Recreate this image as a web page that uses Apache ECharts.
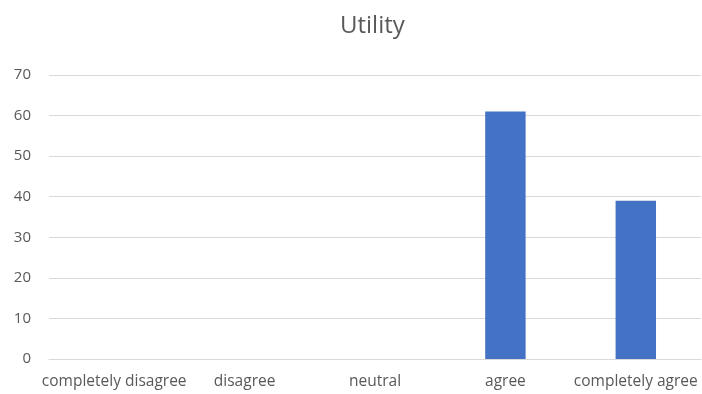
<!DOCTYPE html>
<html lang="en">
<head>
    <meta charset="UTF-8">
    <title>Utility</title>
    <script src="https://cdn.jsdelivr.net/npm/echarts@6/dist/echarts.min.js"></script>
</head>
<body style="margin:0">
<div id="main" style="width: 702px;height:394px;"></div>
<script type="text/javascript">
    var categories = ['completely disagree', 'disagree', 'neutral', 'agree', 'completely agree'];
    var counts = [0, 0, 0, 61, 39];
    var yTicks = [0, 10, 20, 30, 40, 50, 60, 70];

    var myChart = echarts.init(document.getElementById('main'));
    var textColor = '#595959';

    myChart.setOption({
        animation: false,
        textStyle: { fontFamily: 'Open Sans' },
        title: {
            text: 'Utility',
            left: 335,
            top: 9,
            textStyle: { fontSize: 24, fontWeight: 'normal', color: textColor, fontFamily: 'Open Sans' }
        },
        grid: { left: 49, right: 1, top: 75, bottom: 35, containLabel: false },
        xAxis: {
            type: 'category',
            data: categories,
            axisTick: { show: false },
            axisLine: { lineStyle: { color: '#d9d9d9', width: 1 } },
            axisLabel: { color: textColor, fontSize: 15.5, margin: 15, interval: 0 }
        },
        yAxis: {
            type: 'value',
            min: yTicks[0],
            max: yTicks[yTicks.length - 1],
            interval: 10,
            axisLine: { show: false },
            axisTick: { show: false },
            axisLabel: { color: textColor, fontSize: 15, margin: 18 },
            splitLine: { lineStyle: { color: '#d9d9d9', width: 1 } }
        },
        series: [{
            name: 'Utility',
            type: 'bar',
            data: counts,
            barWidth: '31%',
            itemStyle: { color: '#4472c4' }
        }]
    });
</script>
</body>
</html>
